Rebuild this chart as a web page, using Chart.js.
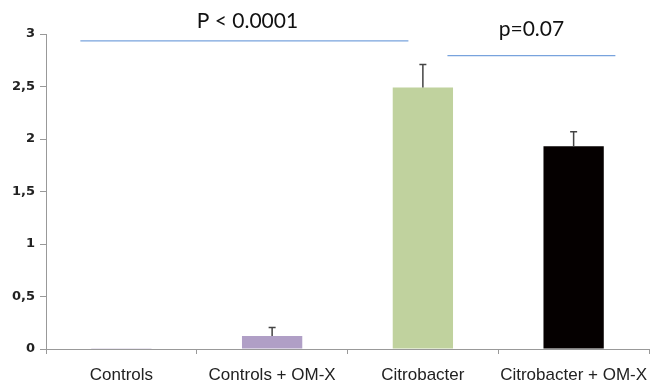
<!DOCTYPE html>
<html>
<head>
<meta charset="utf-8">
<script src="https://cdn.jsdelivr.net/npm/chart.js@4.4.0/dist/chart.umd.min.js"></script>
<style>
  body { margin: 0; background: #fff; }
  #wrap { width: 650px; height: 382px; }
</style>
</head>
<body>
<div id="wrap"><canvas id="myChart"></canvas></div>
<script>
const labels = ['Controls', 'Controls + OM-X', 'Citrobacter', 'Citrobacter + OM-X']
const values = [0.003, 0.124, 2.49, 1.93]
const errors = [0, 0.08, 0.22, 0.14]
const barColors = ['#b09fc6', '#b09fc6', '#c0d29e', '#050000']
const yTicks = [0, 0.5, 1, 1.5, 2, 2.5, 3]

// significance lines, x in category index units, y in data units
const sigLines = [
  { from: -0.272, to: 1.904, y: 2.935, text: 'P < 0.0001', tx: 0.836, ty: 3.12 },
  { from: 2.163, to: 3.277, y: 2.795, text: 'p=0.07', tx: 2.72, ty: 3.05 }
]

const errorBars = {
  id: 'errorBars',
  afterDatasetsDraw(chart) {
    const ctx = chart.ctx
    const x = chart.scales.x, y = chart.scales.y
    ctx.save()
    ctx.strokeStyle = '#444'
    ctx.lineWidth = 1.5
    values.forEach((v, i) => {
      if (!errors[i]) return
      const px = x.getPixelForValue(i)
      const top = y.getPixelForValue(v + errors[i])
      const base = y.getPixelForValue(v)
      ctx.beginPath()
      ctx.moveTo(px, base)
      ctx.lineTo(px, top)
      ctx.moveTo(px - 3.5, top)
      ctx.lineTo(px + 3.5, top)
      ctx.stroke()
    })
    ctx.restore()
  }
}

const sigPlugin = {
  id: 'sigPlugin',
  afterDraw(chart) {
    const ctx = chart.ctx
    const x = chart.scales.x, y = chart.scales.y
    const step = x.getPixelForValue(1) - x.getPixelForValue(0)
    const px = v => x.getPixelForValue(0) + v * step
    ctx.save()
    sigLines.forEach(s => {
      ctx.strokeStyle = '#78a3dd'
      ctx.lineWidth = 1.2
      ctx.beginPath()
      ctx.moveTo(px(s.from), y.getPixelForValue(s.y))
      ctx.lineTo(px(s.to), y.getPixelForValue(s.y))
      ctx.stroke()
      ctx.fillStyle = '#111'
      ctx.font = '21px Lato, "Open Sans", sans-serif'
      ctx.textAlign = 'center'
      ctx.textBaseline = 'middle'
      ctx.fillText(s.text, px(s.tx), y.getPixelForValue(s.ty))
    })
    ctx.restore()
  }
}

var ctx = document.getElementById('myChart').getContext('2d')
const myChart = new Chart(ctx, {
  type: 'bar',
  data: {
    labels: labels,
    datasets: [{
      data: values,
      backgroundColor: barColors,
      borderWidth: 0,
      categoryPercentage: 1,
      barPercentage: 0.4
    }]
  },
  options: {
    responsive: true,
    maintainAspectRatio: false,
    animation: false,
    layout: { padding: { top: 34, right: 1, left: 0, bottom: 0 } },
    plugins: {
      legend: { display: false },
      tooltip: { enabled: false }
    },
    scales: {
      x: {
        offset: true,
        grid: { display: true, drawOnChartArea: false, offset: true, tickLength: 5, color: '#999' },
        border: { color: '#999' },
        ticks: {
          color: '#222',
          padding: 11,
          maxRotation: 0,
          font: { family: '"Liberation Sans", Arial, sans-serif', size: 17 }
        },
        afterFit(scale) {
          scale.height = 33
          scale.paddingLeft = 0
          scale.paddingRight = 0
        }
      },
      y: {
        min: 0,
        max: 3,
        afterBuildTicks(scale) { scale.ticks = yTicks.map(v => ({ value: v })) },
        grid: { display: true, drawOnChartArea: false, tickLength: 6, color: '#999' },
        border: { color: '#999' },
        ticks: {
          color: '#222',
          padding: 5,
          font: { family: '"DejaVu Sans", sans-serif', size: 13, weight: 'bold' },
          callback: v => String(v).replace('.', ',')
        },
        afterFit(scale) { scale.width = 46 }
      }
    }
  },
  plugins: [errorBars, sigPlugin]
})
</script>
</body>
</html>
